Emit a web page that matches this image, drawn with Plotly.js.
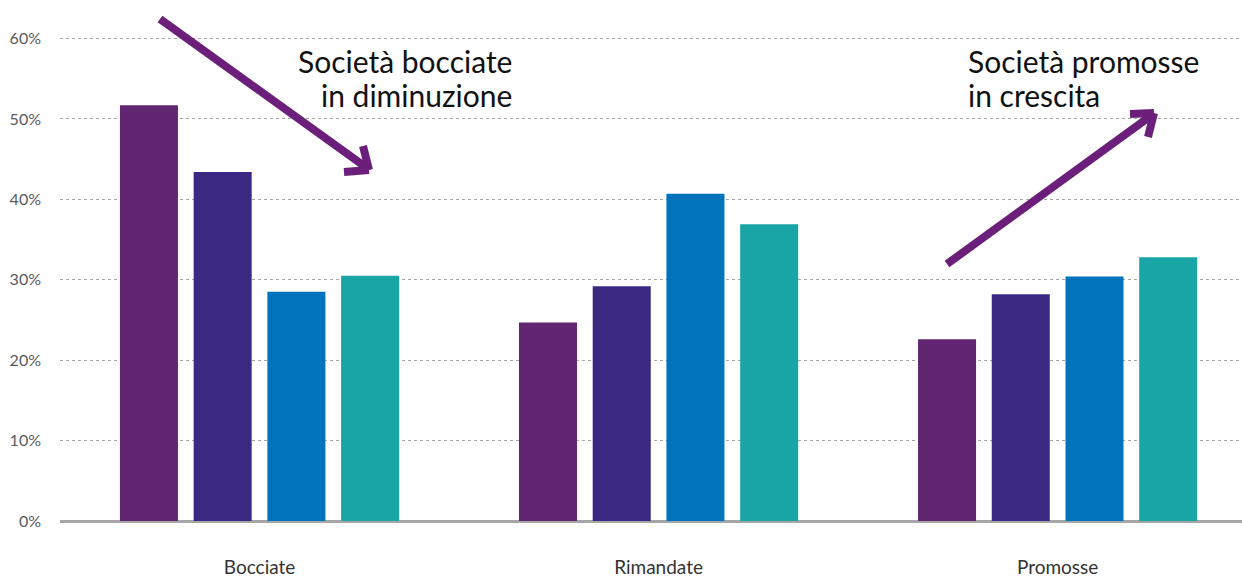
<!DOCTYPE html>
<html>
<head>
<meta charset="utf-8">
<script src="https://cdn.plot.ly/plotly-3.0.1.min.js"></script>
<style>html,body{margin:0;padding:0;background:#fff;}#chart{width:1242px;height:578px;}</style>
</head>
<body>
<div id="chart"></div>
<script>
const categories = ["Bocciate", "Rimandate", "Promosse"];
const series1 = [0.517, 0.247, 0.226];
const series2 = [0.434, 0.292, 0.282];
const series3 = [0.285, 0.407, 0.304];
const series4 = [0.305, 0.369, 0.328];
const seriesNames = ["Serie 1", "Serie 2", "Serie 3", "Serie 4"];
const colors = ["#622572", "#3a2882", "#0073bd", "#19a4a6"];
const yTickVals = [0, 0.1, 0.2, 0.3, 0.4, 0.5, 0.6];
const yTickText = ["0%", "10%", "20%", "30%", "40%", "50%", "60%"];
const noteLeft = ["Società bocciate", "in diminuzione"];
const noteRight = ["Società promosse", "in crescita"];

const allSeries = [series1, series2, series3, series4];
const traces = allSeries.map((s, i) => ({
  type: "bar", x: categories, y: s, name: seriesNames[i],
  marker: {color: colors[i]}, hoverinfo: "skip"
}));

// plot area: x 60..1242, y 0..521 (pixels)
const L = 60, W = 1182, H = 521;
const px = x => (x - L) / W;
const py = y => (H - y) / H;
const arrowColor = "#6b1f7b";
function seg(x0, y0, x1, y1) {
  return {type: "line", xref: "paper", yref: "paper", x0: px(x0), y0: py(y0), x1: px(x1), y1: py(y1),
    line: {color: arrowColor, width: 8}, layer: "above"};
}
const shapes = [
  seg(160, 19, 367, 168),
  seg(369, 170, 344, 172),
  seg(369, 170, 363, 146),
  seg(947, 264, 1152, 115),
  seg(1154, 113, 1130, 114),
  seg(1154, 113, 1148, 137)
];

const noteFont = {size: 30, color: "#111111", family: "Lato, sans-serif", weight: 400};
function note(text, x, y, anchor) {
  return {xref: "paper", yref: "paper", x: px(x), y: py(y), xanchor: anchor, yanchor: "middle",
    text: text, showarrow: false, font: noteFont};
}
const annotations = [
  note(noteLeft[0], 514, 61, "right"),
  note(noteLeft[1], 514, 95, "right"),
  note(noteRight[0], 966, 61, "left"),
  note(noteRight[1], 966, 95, "left")
];

const layout = {
  width: 1242, height: 578,
  margin: {l: 60, r: 0, t: 0, b: 57},
  paper_bgcolor: "#ffffff", plot_bgcolor: "#ffffff",
  barmode: "group", bargap: 0.261, bargroupgap: 0.213,
  showlegend: false,
  font: {family: "Lato, 'Open Sans', sans-serif", color: "#404040", weight: 400},
  xaxis: {
    type: "category", range: [-0.5, 2.462], showgrid: false,
    showline: false, zeroline: false, ticks: "",
    tickfont: {size: 19, color: "#333333", family: "Lato, sans-serif", weight: 400},
    ticklabelstandoff: 33, fixedrange: true
  },
  yaxis: {
    range: [0, 0.648], tickvals: yTickVals, ticktext: yTickText,
    showgrid: true, gridcolor: "#a6a6a6", griddash: "dot", gridwidth: 1,
    zeroline: true, zerolinecolor: "#a6a6a6", zerolinewidth: 3,
    showline: false, ticks: "",
    tickfont: {size: 16, color: "#595959", family: "Lato, sans-serif", weight: 400},
    ticklabelstandoff: 18, fixedrange: true
  },
  shapes: shapes,
  annotations: annotations
};
Plotly.newPlot("chart", traces, layout, {displayModeBar: false, staticPlot: true});
</script>
</body>
</html>
